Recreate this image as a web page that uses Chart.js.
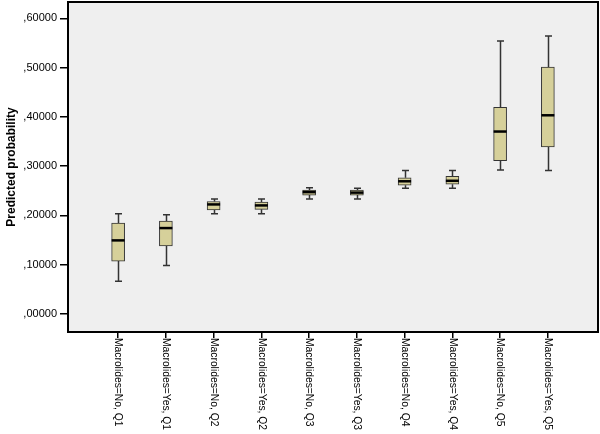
<!DOCTYPE html>
<html>
<head>
<meta charset="utf-8">
<script src="https://cdn.jsdelivr.net/npm/chart.js@4"></script>
<style>
    html, body { margin: 0; padding: 0; background: #ffffff; }
    #wrap { width: 600px; height: 434px; position: relative; }
</style>
</head>
<body>
<div id="wrap"><canvas id="boxChart"></canvas></div>
<script>
// Kategorie (oś X)
const categories = [
    'Macrolides=No, Q1', 'Macrolides=Yes, Q1',
    'Macrolides=No, Q2', 'Macrolides=Yes, Q2',
    'Macrolides=No, Q3', 'Macrolides=Yes, Q3',
    'Macrolides=No, Q4', 'Macrolides=Yes, Q4',
    'Macrolides=No, Q5', 'Macrolides=Yes, Q5',
];

// Statystyki pudełek
const whiskerLow = [0.066, 0.098, 0.203, 0.203, 0.233, 0.233, 0.255, 0.255, 0.292, 0.291];
const quartile1  = [0.107, 0.138, 0.211, 0.212, 0.241, 0.241, 0.261, 0.263, 0.311, 0.339];
const medians    = [0.149, 0.174, 0.222, 0.220, 0.247, 0.246, 0.269, 0.270, 0.370, 0.403];
const quartile3  = [0.184, 0.188, 0.228, 0.227, 0.251, 0.251, 0.276, 0.279, 0.419, 0.501];
const whiskerHigh = [0.203, 0.201, 0.233, 0.233, 0.256, 0.255, 0.291, 0.291, 0.554, 0.564];

// Etykiety osi Y
const yTicks = [0, 0.1, 0.2, 0.3, 0.4, 0.5, 0.6];
const yTickLabels = [',00000', ',10000', ',20000', ',30000', ',40000', ',50000', ',60000'];

const FONT = 'Arial, "Liberation Sans", sans-serif';

/**
 * Tło obszaru wykresu i ramka
 */
const plotFrame = {
    id: 'plotFrame',
    beforeDatasetsDraw(chart) {
        const a = chart.chartArea;
        const ctx = chart.ctx;
        ctx.save();
        ctx.fillStyle = '#efefef';
        ctx.fillRect(a.left, a.top, a.right - a.left, a.bottom - a.top);
        ctx.restore();
    },
    afterDraw(chart) {
        const a = chart.chartArea;
        const ctx = chart.ctx;
        ctx.save();
        ctx.strokeStyle = '#000';
        ctx.lineWidth = 2;
        ctx.strokeRect(a.left, a.top, a.right - a.left, a.bottom - a.top);
        ctx.restore();
    },
};

/**
 * Wąsy, zakończenia i mediany pudełek
 */
const boxExtras = {
    id: 'boxExtras',
    beforeDatasetsDraw(chart) {
        const x = chart.scales.x;
        const y = chart.scales.y;
        const ctx = chart.ctx;
        ctx.save();
        ctx.strokeStyle = '#333';
        ctx.lineWidth = 1.5;
        categories.forEach((_, i) => {
            const px = Math.round(x.getPixelForValue(i + 1)) + 0.5;
            const lo = y.getPixelForValue(whiskerLow[i]);
            const hi = y.getPixelForValue(whiskerHigh[i]);
            const q1 = y.getPixelForValue(quartile1[i]);
            const q3 = y.getPixelForValue(quartile3[i]);
            ctx.beginPath();
            ctx.moveTo(px, lo); ctx.lineTo(px, q1);
            ctx.moveTo(px, q3); ctx.lineTo(px, hi);
            ctx.moveTo(px - 3.5, lo); ctx.lineTo(px + 3.5, lo);
            ctx.moveTo(px - 3.5, hi); ctx.lineTo(px + 3.5, hi);
            ctx.stroke();
        });
        ctx.restore();
    },
    afterDatasetsDraw(chart) {
        const x = chart.scales.x;
        const y = chart.scales.y;
        const ctx = chart.ctx;
        ctx.save();
        ctx.strokeStyle = '#000';
        ctx.lineWidth = 2.5;
        categories.forEach((_, i) => {
            const px = x.getPixelForValue(i + 1);
            const py = y.getPixelForValue(medians[i]);
            ctx.beginPath();
            ctx.moveTo(px - 6.5, py);
            ctx.lineTo(px + 6.5, py);
            ctx.stroke();
        });
        ctx.restore();
    },
};

/**
 * Pionowe etykiety osi X (czytane od góry do dołu)
 */
const xLabels = {
    id: 'xLabels',
    afterDraw(chart) {
        const x = chart.scales.x;
        const ctx = chart.ctx;
        const top = chart.chartArea.bottom + 6;
        ctx.save();
        ctx.fillStyle = '#000';
        ctx.font = '10.3px ' + FONT;
        ctx.textAlign = 'left';
        ctx.textBaseline = 'middle';
        categories.forEach((label, i) => {
            const px = x.getPixelForValue(i + 1);
            ctx.save();
            ctx.translate(px, top);
            ctx.rotate(Math.PI / 2);
            ctx.fillText(label, 0, 0);
            ctx.restore();
        });
        ctx.restore();
    },
};

new Chart(document.getElementById('boxChart'), {
    type: 'bar',
    data: {
        datasets: [{
            label: 'Predicted probability',
            data: categories.map((_, i) => ({ x: i + 1, y: [quartile1[i], quartile3[i]] })),
            backgroundColor: '#d6d09a',
            borderColor: '#333',
            borderWidth: 1,
            borderSkipped: false,
            barThickness: 13,
        }],
    },
    options: {
        responsive: true,
        maintainAspectRatio: false,
        animation: false,
        layout: { padding: { top: 2, right: 2, left: 0, bottom: 0 } },
        plugins: {
            legend: { display: false },
            tooltip: { enabled: false },
        },
        scales: {
            x: {
                type: 'linear',
                offset: false,
                min: -0.05,
                max: 11.05,
                afterBuildTicks: (s) => { s.ticks = categories.map((_, i) => ({ value: i + 1 })); },
                afterFit: (s) => {
                    s.height = 102;
                    s.paddingLeft = 0;
                    s.paddingRight = 0;
                },
                ticks: { display: false },
                grid: { offset: false, drawOnChartArea: false, color: '#000', tickLength: 6, lineWidth: 1.5 },
                border: { display: false },
            },
            y: {
                min: -0.037,
                max: 0.633,
                afterBuildTicks: (s) => { s.ticks = yTicks.map(v => ({ value: v })); },
                afterFit: (s) => {
                    s.width = 68;
                    s.paddingTop = 0;
                    s.paddingBottom = 0;
                },
                ticks: {
                    color: '#000',
                    font: { family: FONT, size: 11 },
                    padding: 3,
                    callback: (value) => {
                        const idx = yTicks.findIndex(t => Math.abs(t - value) < 1e-9);
                        return idx >= 0 ? yTickLabels[idx] : '';
                    },
                },
                grid: { drawOnChartArea: false, color: '#000', tickLength: 8, lineWidth: 1.5 },
                border: { display: false },
                title: {
                    display: true,
                    text: 'Predicted probability',
                    color: '#000',
                    font: { family: FONT, size: 12, weight: 'bold' },
                    padding: { top: 4, bottom: 0 },
                },
            },
        },
    },
    plugins: [plotFrame, boxExtras, xLabels],
});
</script>
</body>
</html>
